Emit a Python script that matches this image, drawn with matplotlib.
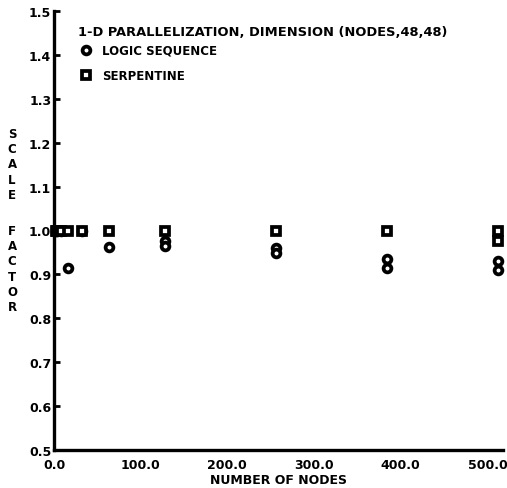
import matplotlib
matplotlib.use("Agg")
import matplotlib.pyplot as plt

# Scale factor vs. number of nodes, 1-D parallelization (nodes,48,48)
logic_nodes = [2, 4, 8, 16, 32, 64, 128, 128, 256, 256, 384, 384, 512, 512]
logic_scale = [1.0, 1.0, 1.0, 0.915, 1.0, 0.962, 0.975, 0.965, 0.96, 0.948,
               0.936, 0.915, 0.93, 0.91]

serp_nodes = [2, 4, 8, 16, 32, 64, 128, 256, 384, 512, 512]
serp_scale = [1.0, 1.0, 1.0, 1.0, 1.0, 1.0, 1.0, 1.0, 1.0, 1.0, 0.975]

x_ticks = [0, 100, 200, 300, 400, 500]
x_tick_labels = ["0.0", "100.0", "200.0", "300.0", "400.0", "500.0"]
y_ticks = [0.5, 0.6, 0.7, 0.8, 0.9, 1.0, 1.1, 1.2, 1.3, 1.4, 1.5]
y_tick_labels = [f"{v:.1f}" for v in y_ticks]

title_text = "1-D PARALLELIZATION, DIMENSION (NODES,48,48)"
logic_label = "LOGIC SEQUENCE"
serp_label = "SERPENTINE"

plt.rcParams["font.family"] = ["DejaVu Sans"]
plt.rcParams["font.weight"] = "bold"

W, H = 507, 489
fig = plt.figure(figsize=(W / 100, H / 100), dpi=100)
ax = fig.add_axes([54 / W, (H - 451) / H, (503 - 54) / W, (451 - 12) / H])

mk = dict(linestyle="none", markersize=5.6, markeredgewidth=2.7,
          markeredgecolor="black", markerfacecolor="white", clip_on=False)
h_logic, = ax.plot(logic_nodes, logic_scale, marker="o", label=logic_label, **mk)
h_serp, = ax.plot(serp_nodes, serp_scale, marker="s", label=serp_label, **mk)

ax.set_xlim(0, 518)
ax.set_ylim(0.5, 1.5)
ax.set_xticks(x_ticks)
ax.set_xticklabels(x_tick_labels, fontsize=9, fontweight="bold")
ax.set_yticks(y_ticks)
ax.set_yticklabels(y_tick_labels, fontsize=9, fontweight="bold")
ax.tick_params(axis="x", length=0, pad=6)
ax.tick_params(axis="y", direction="in", length=4, width=2, pad=2)

for side in ("top", "right"):
    ax.spines[side].set_visible(False)
for side in ("left", "bottom"):
    ax.spines[side].set_linewidth(2.4)

ax.set_xlabel("NUMBER OF NODES", fontsize=9, fontweight="bold", labelpad=1)

# Vertically stacked axis title
fig.text(12 / W, 1 - 128 / H, "S\nC\nA\nL\nE", ha="center", va="top",
         fontsize=8.5, fontweight="bold", linespacing=1.22)
fig.text(12 / W, 1 - 225 / H, "F\nA\nC\nT\nO\nR", ha="center", va="top",
         fontsize=8.5, fontweight="bold", linespacing=1.22)

# Key: heading line plus marker entries
fig.text(78 / W, 1 - 32 / H, title_text, ha="left", va="center",
         fontsize=9.4, fontweight="bold")
leg = ax.legend(handles=[h_logic, h_serp],
                loc="upper left", bbox_to_anchor=(80 / W, 1 - 45 / H),
                bbox_transform=fig.transFigure, frameon=False,
                fontsize=8.5, handlelength=1.0, handletextpad=0.85,
                labelspacing=1.0, borderpad=0, borderaxespad=0)
for t in leg.get_texts():
    t.set_fontweight("bold")

fig.savefig("out.png", dpi=100)
